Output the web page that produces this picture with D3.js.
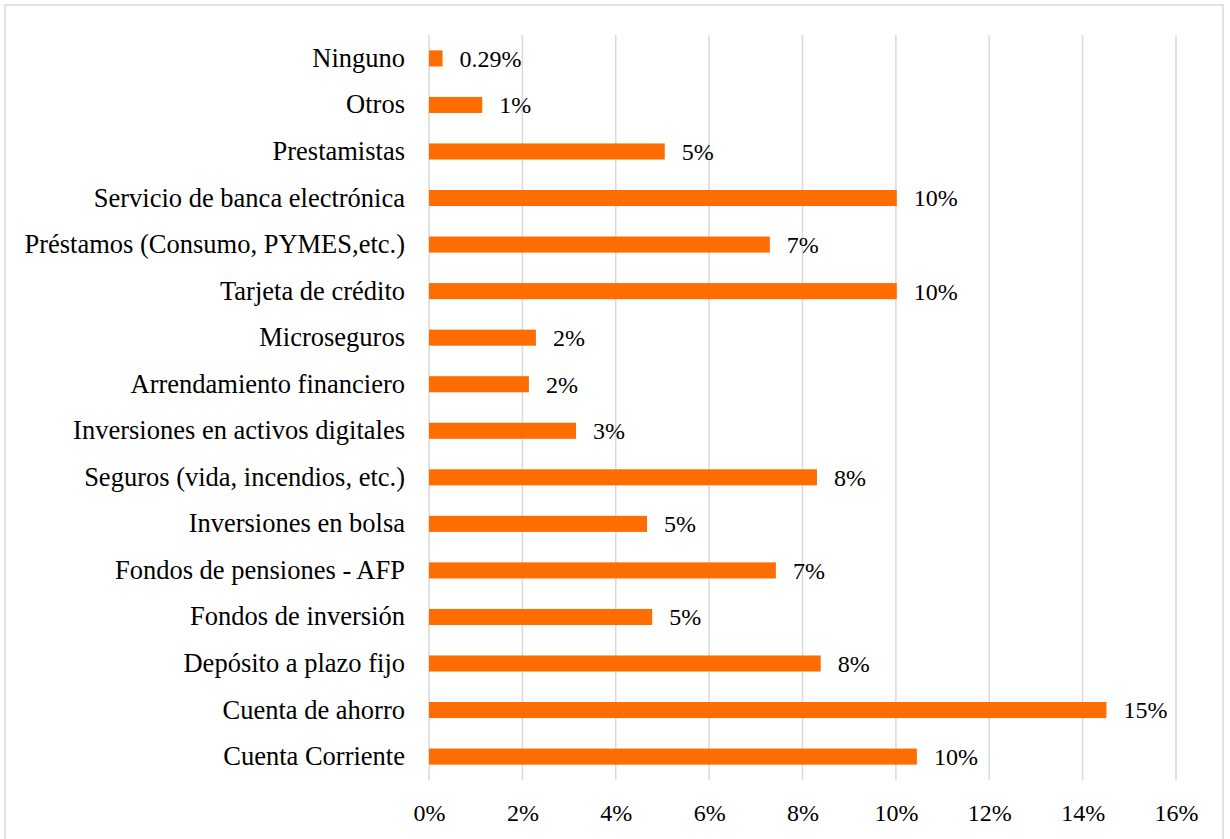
<!DOCTYPE html>
<html>
<head>
<meta charset="utf-8">
<script src="https://cdn.jsdelivr.net/npm/d3@7"></script>
<style>
  html, body { margin: 0; padding: 0; background: #fff; }
  svg { display: block; }
</style>
</head>
<body>
<svg id="chart" width="1230" height="839"></svg>
<script>
// Categories, top to bottom as shown
const categories = [
  "Ninguno",
  "Otros",
  "Prestamistas",
  "Servicio de banca electrónica",
  "Préstamos (Consumo, PYMES,etc.)",
  "Tarjeta de crédito",
  "Microseguros",
  "Arrendamiento financiero",
  "Inversiones en activos digitales",
  "Seguros (vida, incendios, etc.)",
  "Inversiones en bolsa",
  "Fondos de pensiones - AFP",
  "Fondos de inversión",
  "Depósito a plazo fijo",
  "Cuenta de ahorro",
  "Cuenta Corriente"
];
// Percent values
const values = [0.29, 1.14, 5.05, 10.02, 7.30, 10.02, 2.29, 2.14, 3.15, 8.31, 4.67, 7.43, 4.78, 8.39, 14.51, 10.45];
// Axis ticks (percent)
const ticks = [0, 2, 4, 6, 8, 10, 12, 14, 16];

const svg = d3.select("#chart");
const W = 1230, H = 839;
const margin = { left: 429, right: 1230 - 1176, top: 35, bottom: 839 - 780 };
const FONT = "'Liberation Serif', 'Times New Roman', serif";

// Outer frame
svg.append("rect")
  .attr("x", 5).attr("y", 5)
  .attr("width", 1218).attr("height", 845)
  .attr("fill", "#fff")
  .attr("stroke", "#d9d9d9").attr("stroke-width", 1.5);

const x = d3.scaleLinear().domain([0, 16]).range([margin.left, W - margin.right]);
const y = d3.scaleBand().domain(categories).range([margin.top, H - margin.bottom]).paddingInner(0.655).paddingOuter(0.33);

// Gridlines
svg.append("g").selectAll("line").data(ticks).join("line")
  .attr("x1", d => x(d)).attr("x2", d => x(d))
  .attr("y1", margin.top).attr("y2", H - margin.bottom)
  .attr("stroke", "#d9d9d9").attr("stroke-width", 1.5);

// X axis tick labels
const xAxis = d3.axisBottom(x).tickValues(ticks).tickFormat(d => d + "%").tickSize(0).tickPadding(0);
const gx = svg.append("g").attr("transform", `translate(0,${H - margin.bottom})`).call(xAxis);
gx.select(".domain").remove();
gx.selectAll("text")
  .attr("y", 41).attr("dy", 0)
  .attr("font-family", FONT).attr("font-size", 24).attr("fill", "#000");

// Y axis category labels
const yAxis = d3.axisLeft(y).tickSize(0).tickPadding(24);
const gy = svg.append("g").attr("transform", `translate(${margin.left},0)`).call(yAxis);
gy.select(".domain").remove();
gy.selectAll("text")
  .attr("dy", "0.32em")
  .attr("font-family", FONT).attr("font-size", 26.5).attr("fill", "#000");

// Bars
const data = categories.map((c, i) => ({ c, v: values[i] }));
svg.append("g").selectAll("rect").data(data).join("rect")
  .attr("x", x(0))
  .attr("y", d => y(d.c))
  .attr("width", d => x(d.v) - x(0))
  .attr("height", y.bandwidth())
  .attr("fill", "#ff6d00");

// Value labels
const fmt = v => v < 1 ? v.toFixed(2) + "%" : Math.round(v) + "%";
svg.append("g").selectAll("text").data(data).join("text")
  .attr("x", d => x(d.v) + 17)
  .attr("y", d => y(d.c) + y.bandwidth() / 2)
  .attr("dy", "0.35em")
  .attr("font-family", FONT).attr("font-size", 24).attr("fill", "#000")
  .text(d => fmt(d.v));
</script>
</body>
</html>
